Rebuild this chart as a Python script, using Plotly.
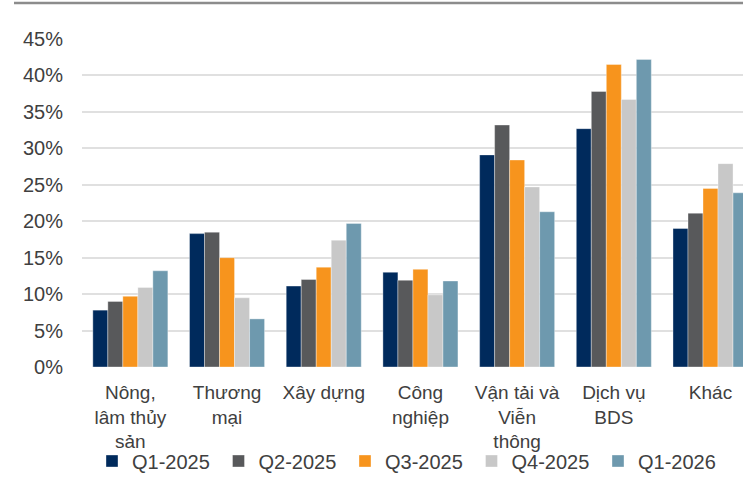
import plotly.graph_objects as go

categories = ["Nông,<br>lâm thủy<br>sản", "Thương<br>mại", "Xây dựng", "Công<br>nghiệp",
              "Vận tải và<br>Viễn<br>thông", "Dịch vụ<br>BDS", "Khác"]
series_names = ["Q1-2025", "Q2-2025", "Q3-2025", "Q4-2025", "Q1-2026"]
q1_2025 = [7.8, 18.3, 11.1, 13.0, 29.1, 32.7, 19.0]
q2_2025 = [9.0, 18.5, 12.0, 11.9, 33.2, 37.8, 21.1]
q3_2025 = [9.7, 15.0, 13.7, 13.4, 28.4, 41.5, 24.5]
q4_2025 = [10.9, 9.5, 17.4, 9.9, 24.7, 36.7, 27.9]
q1_2026 = [13.2, 6.6, 19.7, 11.8, 21.3, 42.2, 23.9]
y_ticks = [0, 5, 10, 15, 20, 25, 30, 35, 40, 45]
y_tick_labels = ["0%", "5%", "10%", "15%", "20%", "25%", "30%", "35%", "40%", "45%"]

colors = ["#002A5C", "#58595B", "#F7941D", "#C8C8C8", "#6E99AE"]
all_series = [q1_2025, q2_2025, q3_2025, q4_2025, q1_2026]

font_family = "Liberation Sans, Arial, sans-serif"
text_color = "#404040"

fig = go.Figure()
idx = list(range(len(categories)))
for name, vals, col in zip(series_names, all_series, colors):
    fig.add_trace(go.Bar(
        x=idx, y=vals, name=name,
        marker=dict(color=col, line=dict(color="rgba(255,255,255,0.6)", width=0.6)),
    ))

W, H = 743, 502
L, R, T, B = 82, 0, 39, 135

fig.update_layout(
    width=W, height=H,
    margin=dict(l=L, r=R, t=T, b=B, pad=0, autoexpand=False),
    paper_bgcolor="white", plot_bgcolor="white",
    barmode="group", bargap=0.224, bargroupgap=0,
    font=dict(family=font_family, size=20, color=text_color),
    showlegend=True,
    legend=dict(
        orientation="h", xref="container", yref="container",
        x=92 / W, y=1 - 461 / H, xanchor="left", yanchor="middle",
        font=dict(size=20, color=text_color),
        itemwidth=30, entrywidth=81.5, entrywidthmode="pixels",
        bgcolor="rgba(0,0,0,0)",
    ),
    xaxis=dict(
        range=[-0.5, 6.336], tickmode="array", tickvals=idx, ticktext=categories,
        showgrid=False, zeroline=False, showline=False, ticks="",
        tickfont=dict(size=19, color=text_color), tickangle=0,
        ticklabelstandoff=12,
    ),
    yaxis=dict(
        range=[0, 45], tickmode="array", tickvals=y_ticks, ticktext=y_tick_labels,
        showgrid=True, gridcolor="#E0E0E0", gridwidth=2,
        zeroline=False, showline=False, ticks="",
        tickfont=dict(size=20, color=text_color),
        ticklabelstandoff=18,
    ),
    shapes=[dict(type="line", xref="paper", yref="paper",
                 x0=(14 - L) / (W - L - R), x1=1.0,
                 y0=(H - B - 3) / (H - T - B), y1=(H - B - 3) / (H - T - B),
                 line=dict(color="#8C8C8C", width=2.5))],
)

fig.write_html("out.html",
               config={"displayModeBar": False},
               post_script="document.body.style.margin='0';document.body.style.overflow='hidden';")
